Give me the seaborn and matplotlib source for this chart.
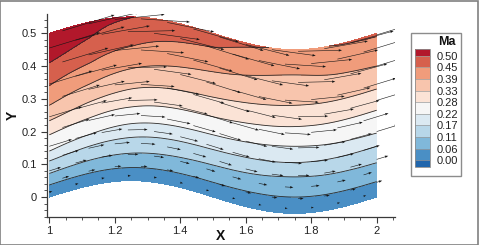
import numpy as np
import matplotlib
matplotlib.use("Agg")
import matplotlib.pyplot as plt
import seaborn as sns
from matplotlib.patches import Rectangle
from matplotlib.ticker import MultipleLocator, FuncFormatter

# ---------------- data ----------------
levels = [0.00, 0.06, 0.11, 0.17, 0.22, 0.28, 0.33, 0.39, 0.45, 0.50]
level_labels = ["0.00", "0.06", "0.11", "0.17", "0.22", "0.28", "0.33", "0.39", "0.45", "0.50"]

# lower wall of the wavy channel (upper wall = lower wall + channel_height)
x_wall = [1.0, 1.0625, 1.125, 1.1875, 1.25, 1.3125, 1.375, 1.4375, 1.5,
          1.5625, 1.625, 1.6875, 1.75, 1.8125, 1.875, 1.9375, 2.0]
y_wall_bottom = [0.0, 0.019, 0.035, 0.046, 0.05, 0.046, 0.035, 0.019, 0.0,
                 -0.019, -0.035, -0.046, -0.05, -0.046, -0.035, -0.019, 0.0]
channel_height = 0.5

# Mach number: stations along x, position (fraction of channel height) of each level
x_stations = [1.0, 1.125, 1.25, 1.5, 1.75, 1.875, 2.0]
ma_bottom = [0.012, 0.012, 0.012, 0.012, 0.012, 0.012, 0.012]
ma_top = [0.57, 0.52, 0.501, 0.47, 0.446, 0.451, 0.458]
level_eta = [  # levels 0.06 ... 0.50
    [0.074, 0.144, 0.220, 0.280, 0.380, 0.466, 0.560, 0.680, 0.820],
    [0.077, 0.156, 0.242, 0.314, 0.415, 0.513, 0.622, 0.750, 0.905],
    [0.080, 0.168, 0.264, 0.348, 0.450, 0.560, 0.684, 0.820, 0.995],
    [0.090, 0.196, 0.290, 0.380, 0.490, 0.610, 0.765, 0.915, np.nan],
    [0.100, 0.224, 0.310, 0.410, 0.530, 0.660, 0.846, np.nan, np.nan],
    [0.097, 0.217, 0.310, 0.400, 0.530, 0.660, 0.820, 0.995, np.nan],
    [0.094, 0.210, 0.310, 0.390, 0.530, 0.660, 0.800, 0.980, np.nan],
]

# vector grid nodes (odd rows are shifted by half a column)
x_vec = [1.0, 1.08, 1.16, 1.24, 1.32, 1.40, 1.48, 1.56, 1.64, 1.72, 1.80, 1.88, 1.96]
eta_vec = [0.03, 0.09, 0.16, 0.23, 0.31, 0.40, 0.49, 0.59, 0.69, 0.80, 0.91, 0.99]
row_shift = [0.0, 0.04, 0.0, 0.04, 0.0, 0.04, 0.0, 0.04, 0.0, 0.04, 0.0, 0.04]

palette = ["#2166ac", "#4a8fc5", "#80b8da", "#b8d7e9", "#dbe9f2", "#f6f6f6",
           "#fbe3d6", "#f8c5ad", "#f09c7b", "#d6604d", "#b2182b"]


# ---------------- helpers ----------------
def hermite(xq, xp, fp):
    xq = np.asarray(xq, float)
    xp = np.asarray(xp, float)
    fp = np.asarray(fp, float)
    shape_rest = fp.shape[1:]
    fp2 = fp.reshape(len(xp), -1)
    m = np.gradient(fp2, xp, axis=0)
    i = np.clip(np.searchsorted(xp, xq, side="right") - 1, 0, len(xp) - 2)
    h = (xp[i + 1] - xp[i])[:, None]
    t = ((xq - xp[i])[:, None]) / h
    h00 = 2 * t**3 - 3 * t**2 + 1
    h10 = t**3 - 2 * t**2 + t
    h01 = -2 * t**3 + 3 * t**2
    h11 = t**3 - t**2
    out = h00 * fp2[i] + h10 * h * m[i] + h01 * fp2[i + 1] + h11 * h * m[i + 1]
    return out.reshape((len(xq),) + shape_rest)


def station_profile(k, eta):
    le = np.asarray(level_eta[k], float)
    lv = np.asarray(levels[1:], float)
    ok = ~np.isnan(le)
    ep = np.concatenate([[0.0], le[ok], [1.0]])
    mp = np.concatenate([[ma_bottom[k]], lv[ok], [ma_top[k]]])
    return np.interp(eta, ep, mp)


# ---------------- field ----------------
xf = np.linspace(1.0, 2.0, 241)
ef = np.linspace(0.0, 1.0, 141)
yb = hermite(xf, x_wall, y_wall_bottom)
prof = np.array([station_profile(k, ef) for k in range(len(x_stations))])
M = hermite(xf, x_stations, prof).T           # (eta, x)
X = np.broadcast_to(xf[None, :], M.shape)
Y = yb[None, :] + channel_height * ef[:, None]
slope_f = np.gradient(yb, xf)

# vectors
XV, YV, U, V = [], [], [], []
for e, sh in zip(eta_vec, row_shift):
    xs = np.asarray(x_vec) + sh
    xs = xs[xs <= 2.0]
    pv = np.array([station_profile(k, np.array([e])) for k in range(len(x_stations))])
    mv = hermite(xs, x_stations, pv)[:, 0]
    th = np.arctan(np.interp(xs, xf, slope_f))
    XV.append(xs)
    YV.append(hermite(xs, x_wall, y_wall_bottom) + channel_height * e)
    U.append(mv * np.cos(th))
    V.append(mv * np.sin(th))
XV, YV, U, V = [np.concatenate(a) for a in (XV, YV, U, V)]

# ---------------- plot ----------------
sns.set_theme(style="white")
plt.rcParams["font.family"] = ["Liberation Sans", "DejaVu Sans"]

W, H = 479, 245
fig = plt.figure(figsize=(W / 100, H / 100), dpi=100)
fig.patch.set_facecolor("white")

ax_l, ax_r, ax_t, ax_b = 46.7, 395.0, 14.3, 216.7
ax = fig.add_axes([ax_l / W, (H - ax_b) / H, (ax_r - ax_l) / W, (ax_b - ax_t) / H])

cf = ax.contourf(X, Y, M, levels=levels, colors=palette, extend="both")
ax.contour(X, Y, M, levels=levels, colors="#2a2a2a", linewidths=0.6)
ax.quiver(XV, YV, U, V, angles="xy", scale_units="xy", scale=3.3, width=0.0016,
          headwidth=4.5, headlength=6, headaxislength=5.5, color="#151515", zorder=3)

ax.set_xlim(0.992, 2.056)
ax.set_ylim(-0.060, 0.558)
ax.set_facecolor("none")
for s in ["top", "right"]:
    ax.spines[s].set_visible(False)
for s in ["left", "bottom"]:
    ax.spines[s].set_color("#3a3a3a")
    ax.spines[s].set_linewidth(0.9)

ax.xaxis.set_major_locator(MultipleLocator(0.2))
ax.xaxis.set_minor_locator(MultipleLocator(0.05))
ax.yaxis.set_major_locator(MultipleLocator(0.1))
ax.yaxis.set_minor_locator(MultipleLocator(0.02))
fmt = FuncFormatter(lambda v, p: "%g" % round(v, 3))
ax.xaxis.set_major_formatter(fmt)
ax.yaxis.set_major_formatter(fmt)
ax.tick_params(which="both", direction="out", bottom=True, left=True,
               colors="#3a3a3a", labelcolor="#222222", labelsize=8)
ax.tick_params(which="major", length=4, width=0.8, pad=3)
ax.tick_params(which="minor", length=2, width=0.6)

ax.set_xlabel("X", fontweight="bold", fontsize=10, va="center", color="#111111")
ax.set_ylabel("Y", fontweight="bold", fontsize=10, va="center", ha="center", color="#111111")
ax.xaxis.set_label_coords((220 - ax_l) / (ax_r - ax_l), -(236 - ax_b) / (ax_b - ax_t))
ax.yaxis.set_label_coords((13 - ax_l) / (ax_r - ax_l), (ax_b - 115) / (ax_b - ax_t))

# legend box / colorbar
fig.patches.append(Rectangle((411 / W, (H - 176) / H), 49.7 / W, 142.7 / H,
                             transform=fig.transFigure, facecolor="none",
                             edgecolor="#8c8c8c", lw=1.0, zorder=0))
cax = fig.add_axes([415 / W, (H - 166.7) / H, 15 / W, (166.7 - 49.3) / H])
cbar = fig.colorbar(cf, cax=cax, extendrect=True, extendfrac=0.06, drawedges=True)
cbar.set_ticks(levels)
cbar.set_ticklabels(level_labels)
cbar.ax.tick_params(length=0, pad=5, labelsize=8, labelcolor="#222222")
cbar.outline.set_edgecolor("#8c8c8c")
cbar.outline.set_linewidth(0.6)
cbar.dividers.set_color("#9a9a9a")
cbar.dividers.set_linewidth(0.5)
fig.text(447 / W, 1 - 42 / H, "Ma", ha="center", va="center",
         fontweight="bold", fontsize=9, color="#111111")

# outer frame
fig.patches.append(Rectangle((0.001, 0.002), 0.997, 0.995, transform=fig.transFigure,
                             facecolor="none", edgecolor="#808080", lw=1.2, zorder=0))

fig.savefig("out.png", dpi=100)
